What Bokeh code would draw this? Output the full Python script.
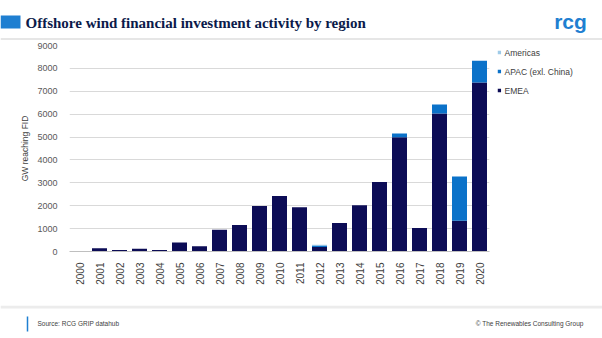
from bokeh.plotting import figure
from bokeh.models import Range1d, FactorRange, FixedTicker
from bokeh.layouts import column, row
from bokeh.embed import file_html
from bokeh.resources import INLINE
from bokeh.core.properties import value
import math

years = [str(y) for y in range(2000, 2021)]
emea = [0, 140, 70, 115, 70, 395, 230, 945, 1160, 1990, 2430, 1935, 200, 1250, 2020, 3040, 4990, 1030, 6030, 1340, 7380]
apac = [0, 0, 0, 0, 0, 0, 0, 0, 0, 0, 0, 0, 60, 0, 0, 0, 170, 0, 390, 1940, 950]
americas = [0, 0, 0, 0, 0, 0, 0, 0, 0, 0, 0, 0, 30, 0, 0, 0, 0, 0, 0, 0, 0]
series = ["EMEA", "APAC (exl. China)", "Americas"]
colors = ["#0c0c56", "#0b72c9", "#9fcbe8"]
yticks = list(range(0, 10000, 1000))

title_text = "Offshore wind financial investment activity by region"
source_text = "Source: RCG GRIP datahub"
copyright_text = "\u00a9 The Renewables Consulting Group"

W = 602
HEAD_H, FOOT_H = 40, 33
MAIN_H = 338 - HEAD_H - FOOT_H
MAIN_W = 497
LEG_W = W - MAIN_W
TOP_B, BOT_B = 5, 54
FRAME_H = MAIN_H - TOP_B - BOT_B

def blank(w, h, yr=None, **kw):
    f = figure(width=w, height=h, x_range=Range1d(0, w),
               y_range=yr if yr is not None else Range1d(h, 0),
               output_backend="svg", toolbar_location=None,
               x_axis_location=None, y_axis_location=None,
               min_border=0, min_border_left=0, min_border_right=0,
               min_border_top=kw.get("top", 0), min_border_bottom=kw.get("bottom", 0),
               outline_line_color=None)
    f.grid.visible = False
    return f

# header
head = blank(W, HEAD_H)
head.quad(left=[0], right=[20], top=[15], bottom=[28], color="#1f7fd1", line_color=None)
head.text(x=[25], y=[22], text=[title_text], text_font=value("Liberation Serif"),
          text_font_style="bold", text_font_size="15px", text_color="#0b1a4a",
          text_baseline="middle", text_align="left")
head.text(x=[570], y=[21], text=["rcg"], text_font=value("Liberation Sans"),
          text_font_style="bold", text_font_size="21px", text_color="#1f7fd1",
          text_baseline="middle", text_align="center")
head.line(x=[0, W], y=[38.5, 38.5], line_color="#e6e6e6", line_width=2)

# main chart
data = {"years": years, "EMEA": emea, "APAC (exl. China)": apac, "Americas": americas}
p = figure(width=MAIN_W, height=MAIN_H, x_range=FactorRange(*years, range_padding=0),
           y_range=Range1d(0, 9000), output_backend="svg", toolbar_location=None,
           min_border_left=69, min_border_right=8, min_border_top=TOP_B,
           min_border_bottom=BOT_B, outline_line_color=None)
rs = p.vbar_stack(series, x="years", width=0.75, color=colors, line_color=None, source=data)

p.yaxis.ticker = FixedTicker(ticks=yticks)
p.yaxis.axis_line_color = None
p.yaxis.major_tick_line_color = None
p.yaxis.minor_tick_line_color = None
p.yaxis.major_label_text_font = "Liberation Sans"
p.yaxis.major_label_text_font_size = "9px"
p.yaxis.major_label_text_color = "#595959"
p.yaxis.major_label_standoff = 6
p.yaxis.axis_label = "GW reaching FID"
p.yaxis.axis_label_text_font = "Liberation Sans"
p.yaxis.axis_label_text_font_size = "8.5px"
p.yaxis.axis_label_text_font_style = "normal"
p.yaxis.axis_label_text_color = "#404040"
p.yaxis.axis_label_standoff = 4

p.xaxis.axis_line_color = "#bfbfbf"
p.xaxis.major_tick_line_color = None
p.xaxis.minor_tick_line_color = None
p.xaxis.major_label_orientation = math.pi / 2
p.xaxis.major_label_text_font = "Liberation Sans"
p.xaxis.major_label_text_font_size = "10px"
p.xaxis.major_label_text_color = "#404040"
p.xaxis.major_label_standoff = 5

p.xgrid.visible = False
p.ygrid.grid_line_color = "#d9d9d9"

# legend panel (pixel coordinates measured from the plot frame's top)
leg = blank(LEG_W, MAIN_H, yr=Range1d(FRAME_H, 0), top=TOP_B, bottom=BOT_B)
order = [2, 1, 0]
leg_y = [7 + 19 * k for k in range(len(order))]
leg.scatter(x=[1.8] * 3, y=leg_y, marker="square", size=3.5,
            color=[colors[i] for i in order], line_color=None)
leg.text(x=[7] * 3, y=leg_y, text=[series[i] for i in order],
         text_font=value("Liberation Sans"), text_font_size="8.5px",
         text_color="#404040", text_baseline="middle", text_align="left")

# footer
foot = blank(W, FOOT_H)
foot.line(x=[0, W], y=[1.5, 1.5], line_color="#ececec", line_width=3)
foot.line(x=[27, 27], y=[11, 26], line_color="#1f7fd1", line_width=1.5)
foot.text(x=[37], y=[18], text=[source_text], text_font=value("Liberation Sans"),
          text_font_size="6.5px", text_color="#404040", text_baseline="middle", text_align="left")
foot.text(x=[583], y=[18], text=[copyright_text], text_font=value("Liberation Sans"),
          text_font_size="6.5px", text_color="#404040", text_baseline="middle", text_align="right")

layout = column(row(head), row(p, leg, spacing=0), row(foot), spacing=0)
open("out.html", "w").write(file_html(layout, INLINE))
